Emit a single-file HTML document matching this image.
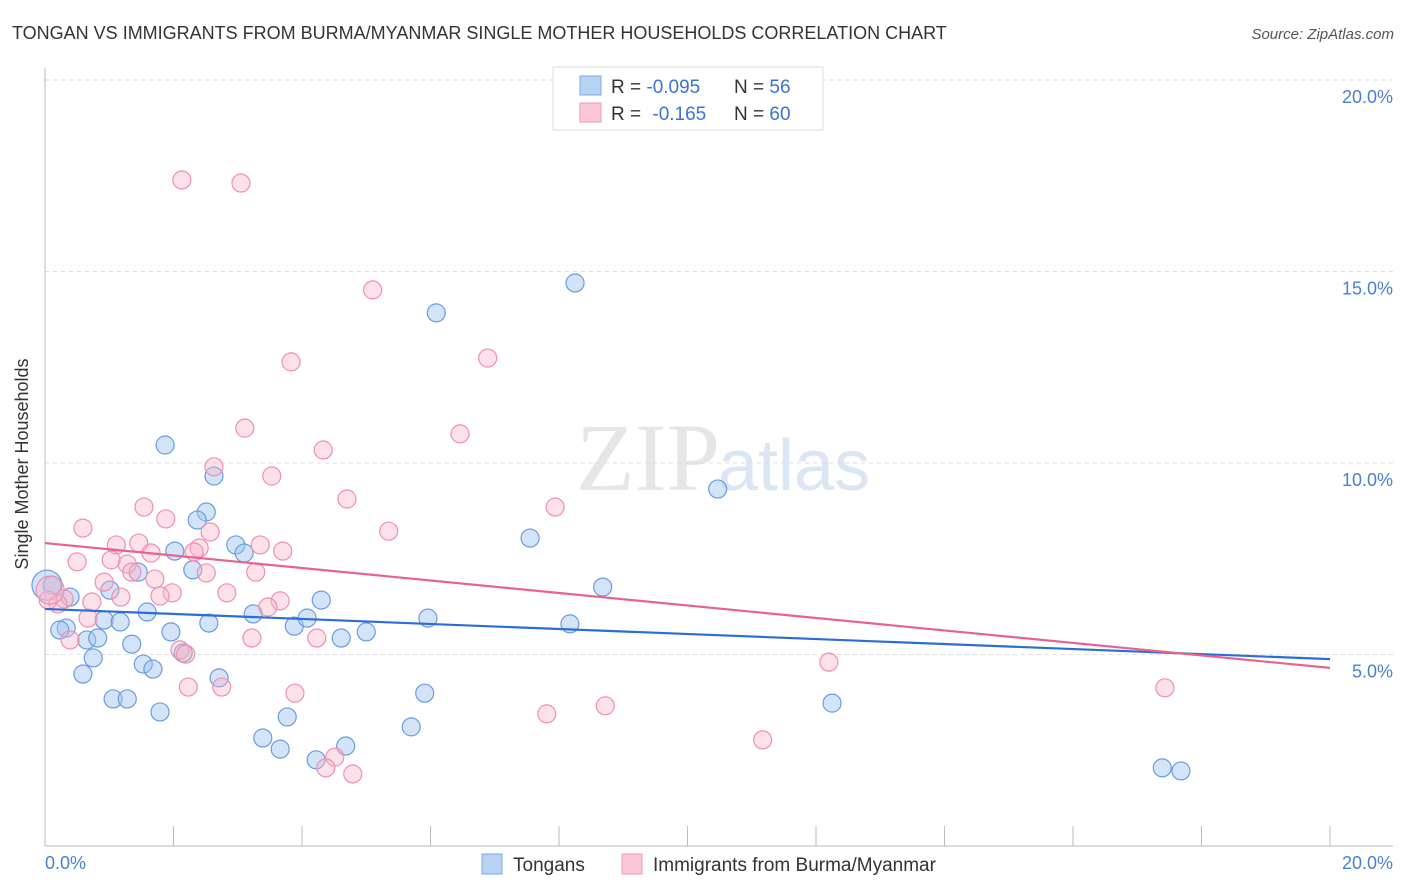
<!DOCTYPE html>
<html><head><meta charset="utf-8"><style>
body{margin:0;background:#fff;font-family:"Liberation Sans",sans-serif;}
svg{display:block}
</style></head><body>
<svg width="1406" height="892">
<text x="12" y="39" font-size="18" fill="#333">TONGAN VS IMMIGRANTS FROM BURMA/MYANMAR SINGLE MOTHER HOUSEHOLDS CORRELATION CHART</text>
<text x="1394" y="39" font-size="15" fill="#555" font-style="italic" text-anchor="end">Source: ZipAtlas.com</text>
<text x="720" y="490" font-size="96" fill="#e6e6e6" text-anchor="end" font-family="Liberation Serif">ZIP</text>
<text x="718" y="490" font-size="72" fill="#dbe6f4">atlas</text>
<g id="grid"></g>
<line x1="45" y1="68" x2="45" y2="846" stroke="#bbb"/>
<line x1="45" y1="846" x2="1393" y2="846" stroke="#bbb"/>
<g id="ticks"></g>
<text x="20" y="456" font-size="18" fill="#333" text-anchor="middle" transform="rotate(-90 28 456)">Single Mother Households</text>
<text x="45" y="869" font-size="18" fill="#4a7fd0">0.0%</text>
<text x="1393" y="869" font-size="18" fill="#4a7fd0" text-anchor="end">20.0%</text>
<g id="pts"></g>
<g id="lines"></g>
<g>
<rect x="553" y="67" width="270" height="63" fill="#fff" stroke="#ddd"/>
<rect x="580" y="76" width="21" height="19" fill="#b8d2f4" stroke="#7ea8e4"/>
<rect x="580" y="103" width="21" height="19" fill="#fbc7d6" stroke="#f29ab6"/>
<text x="611" y="93" font-size="19" fill="#333">R = <tspan fill="#3b73d0">-0.095</tspan></text>
<text x="734" y="93" font-size="19" fill="#333">N = <tspan fill="#3b73d0">56</tspan></text>
<text x="611" y="120" font-size="19" fill="#333">R = <tspan fill="#3b73d0" dx="6">-0.165</tspan></text>
<text x="734" y="120" font-size="19" fill="#333">N = <tspan fill="#3b73d0">60</tspan></text>
</g>
<g>
<rect x="482" y="854" width="20" height="20" fill="#b8d2f4" stroke="#7ea8e4"/>
<text x="513" y="871" font-size="19" fill="#333">Tongans</text>
<rect x="622" y="854" width="20" height="20" fill="#fbc7d6" stroke="#f29ab6"/>
<text x="653" y="871" font-size="19" fill="#333">Immigrants from Burma/Myanmar</text>
</g>
</svg>
<script>
const yTicks=[5,10,15,20];
const yTickLabels=["5.0%","10.0%","15.0%","20.0%"];
const xTicks=[1,2,3,4,5,6,7,8,9,10,11,12,13,14,15,16,17,18,19,20];
const tonganX=[1.87,2.63,2.51,2.37,2.97,3.10,2.02,2.30,1.45,1.01,0.39,0.11,1.59,3.24,4.30,0.92,1.17,0.33,0.23,0.65,0.82,1.35,1.96,2.55,3.88,4.08,4.61,5.00,5.96,2.15,0.75,1.53,1.68,0.59,2.71,1.06,1.28,1.79,3.77,3.39,3.66,4.22,4.68,5.70,5.91,6.09,8.25,7.55,8.68,8.17,10.47,12.25,17.39,17.68,0.03];
const tonganY=[10.47,9.66,8.72,8.51,7.86,7.65,7.70,7.21,7.15,6.68,6.50,6.81,6.11,6.06,6.42,5.90,5.85,5.69,5.64,5.38,5.43,5.27,5.59,5.82,5.74,5.95,5.43,5.59,5.95,5.04,4.91,4.75,4.62,4.49,4.39,3.84,3.84,3.50,3.37,2.82,2.53,2.25,2.61,3.11,3.99,13.92,14.70,8.04,6.76,5.80,9.32,3.73,2.04,1.96,6.81];
const burmaX=[2.13,3.05,5.10,3.83,6.89,3.11,6.46,4.33,2.63,3.53,4.70,1.54,7.94,1.88,5.35,0.59,2.57,1.11,1.46,2.40,2.32,1.65,3.35,3.70,0.50,1.03,1.28,1.35,3.28,2.51,1.71,0.92,2.83,1.98,1.79,1.18,0.73,3.66,3.47,0.30,0.20,0.67,3.22,4.23,0.39,2.10,2.19,12.20,2.23,2.75,3.89,17.43,7.81,8.72,11.17,4.51,4.37,4.79,0.05,0.08];
const burmaY=[17.39,17.31,14.52,12.64,12.74,10.91,10.76,10.34,9.90,9.66,9.06,8.85,8.85,8.54,8.22,8.30,8.20,7.86,7.91,7.78,7.68,7.65,7.86,7.70,7.42,7.47,7.36,7.15,7.15,7.13,6.97,6.89,6.61,6.61,6.53,6.50,6.37,6.40,6.24,6.45,6.32,5.95,5.43,5.43,5.38,5.12,5.01,4.80,4.15,4.15,3.99,4.13,3.45,3.66,2.77,2.32,2.04,1.88,6.42,6.68];
const tonganTrend=[6.19,4.88];
const burmaTrend=[7.91,4.65];
const NS="http://www.w3.org/2000/svg";
const xs=v=>45+v*64.25, ys=v=>846-v*38.3;
function mk(t,a,p){const e=document.createElementNS(NS,t);for(const k in a)e.setAttribute(k,a[k]);document.getElementById(p).appendChild(e);return e;}
yTicks.forEach((v,i)=>{
 const g=mk('line',{x1:45,x2:1393,y1:ys(v),y2:ys(v),stroke:'#ddd','stroke-dasharray':'4,4'},'grid');
 
 
 const t=mk('text',{x:1393,y:ys(v)+23,'font-size':18,fill:'#4a7fd0','text-anchor':'end'},'grid');
 t.textContent=yTickLabels[i];
 
 
});
xTicks.forEach(v=>{
 if(v%2)return;
 const l=mk('line',{x1:xs(v),x2:xs(v),y1:826,y2:846,stroke:'#bbb'},'ticks');
 
 
});
tonganX.forEach((v,i)=>{
 const big=i===tonganX.length-1;
 const c=mk('circle',{cx:xs(v),cy:ys(tonganY[i]),r:big?15:9,fill:'rgba(160,196,240,0.45)',stroke:'#6a9be0','stroke-width':1.2},'pts');
 
 
});
burmaX.forEach((v,i)=>{
 const big=i===burmaX.length-1;
 const c=mk('circle',{cx:xs(v),cy:ys(burmaY[i]),r:big?14:9,fill:'rgba(248,180,200,0.4)',stroke:'#f08fae','stroke-width':1.2},'pts');
 
 
});
const l1=mk('line',{x1:xs(0),y1:ys(tonganTrend[0]),x2:xs(20),y2:ys(tonganTrend[1]),stroke:'#2a6dd6','stroke-width':2.2},'lines');


const l2=mk('line',{x1:xs(0),y1:ys(burmaTrend[0]),x2:xs(20),y2:ys(burmaTrend[1]),stroke:'#e8628e','stroke-width':2.2},'lines');


</script>
</body></html>
